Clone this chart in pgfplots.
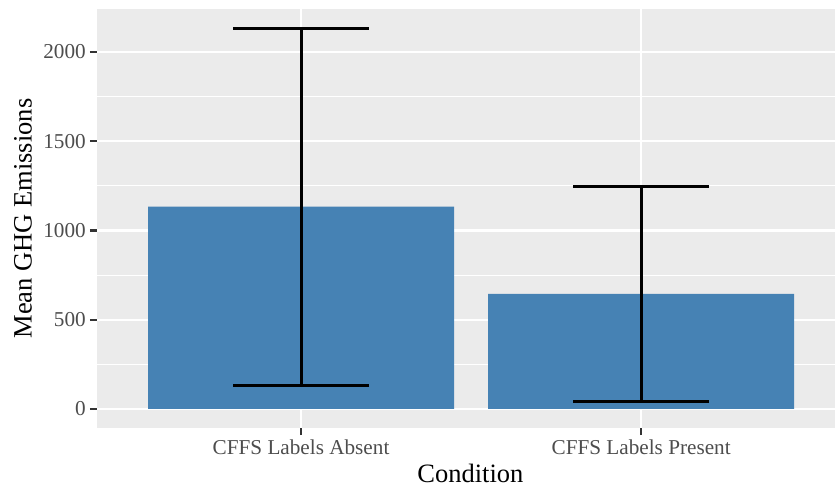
\documentclass[border=0pt]{standalone}
\usepackage{pgfplots}
\pgfplotsset{compat=1.18}
\usepackage{fontspec}
\setmainfont{Liberation Serif}
\definecolor{panelbg}{HTML}{EBEBEB}
\definecolor{steelblue}{HTML}{4682B4}
\definecolor{tickgrey}{HTML}{333333}
\definecolor{labgrey}{HTML}{4D4D4D}
\begin{document}
\begin{tikzpicture}
\useasboundingbox (-97bp,-59bp) rectangle (738bp,428bp);
\begin{axis}[
  at={(0,0)}, anchor=south west,
  scale only axis, width=738bp, height=419bp,
  xmin=0.4, xmax=2.57, ymin=-106.5, ymax=2240,
  axis background/.style={fill=panelbg},
  axis line style={draw=none},
  xtick={1,2}, xticklabels={CFFS Labels Absent, CFFS Labels Present},
  ytick={0,500,1000,1500,2000},
  minor ytick={250,750,1250,1750},
  ymajorgrids, xmajorgrids, yminorgrids,
  major grid style={white, line width=2.2bp},
  minor grid style={white, line width=1.1bp},
  tick align=outside,
  major tick length=7bp, minor tick length=0pt,
  tick style={tickgrey, line width=2.2bp},
  xtick pos=left, ytick pos=left,
  ticklabel style={font=\fontsize{21.2bp}{24bp}\selectfont, text=labgrey},
  /pgf/number format/assume math mode=true,
  /pgf/number format/1000 sep={},
  yticklabel style={anchor=east, inner sep=0pt, xshift=-4bp},
  xticklabel style={anchor=base, inner sep=0pt, yshift=-19bp},
  xlabel={Condition}, ylabel={Mean GHG Emissions},
  label style={font=\fontsize{26.5bp}{30bp}\selectfont, text=black},
  xlabel style={at={(axis description cs:0.506,-0.1289)}, anchor=base},
  ylabel style={at={(axis description cs:-0.1003,0.5)}, anchor=center},
  ybar, bar width=0.9,
]
\addplot[fill=steelblue, draw=none,
  error bars/.cd, y dir=both, y explicit,
  error bar style={black, line width=3bp},
  error mark options={black, line width=3bp, mark size=68bp, rotate=90}]
  coordinates {(1,1133) +- (0,1000) (2,645) +- (0,602)};
\end{axis}
\end{tikzpicture}
\end{document}
